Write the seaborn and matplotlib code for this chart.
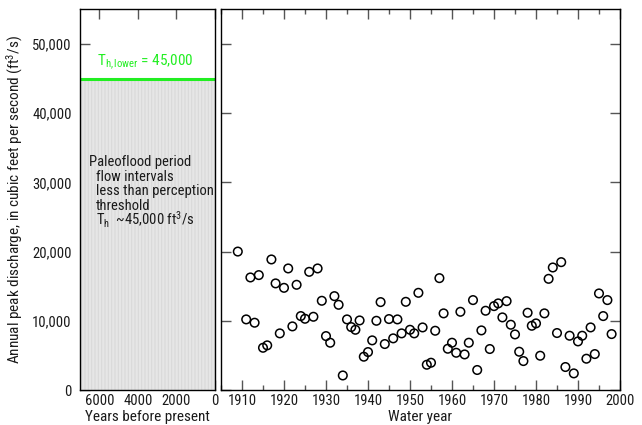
import matplotlib
matplotlib.use("Agg")
import matplotlib.pyplot as plt
from matplotlib import font_manager as fm
import seaborn as sns
import numpy as np
import pandas as pd

# ---- data ----
water_years = [1909] + list(range(1911, 1999))
peak_discharge = [
    20000, 10200, 16260, 9720, 16600, 6100, 6450, 18860, 15400, 8180,
    14760, 17560, 9190, 15200, 10680, 10290, 17070, 10580, 17560, 12890,
    7790, 6830, 13560, 12310, 2100, 10200, 9090, 8700, 10050, 4810,
    5480, 7170, 10000, 12700, 6640, 10250, 7460, 10200, 8180, 12740,
    8700, 8180, 14040, 9040, 3650, 3940, 8560, 16160, 11070, 5960,
    6830, 5380, 11300, 5140, 6830, 12990, 2890, 8610, 11450, 5920,
    12120, 12510, 10490, 12840, 9430, 8030, 5530, 4180, 11160, 9280,
    9620, 4950, 11070, 16060, 17700, 8230, 18470, 3320, 7840, 2400,
    7020, 7840, 4520, 9040, 5190, 13950, 10680, 12990, 8080,
]
threshold = 45000
threshold_label = r"T$_{\mathregular{h,lower}}$ = 45,000"
paleo_text = ["Paleoflood period", "flow intervals", "less than perception", "threshold",
              r"T$_{\mathregular{h}}$  ~45,000 ft$^{\mathregular{3}}$/s"]
yticks = [0, 10000, 20000, 30000, 40000, 50000]
ytick_labels = ["0", "10,000", "20,000", "30,000", "40,000", "50,000"]
bp_ticks = [6000, 4000, 2000, 0]
year_ticks = list(range(1910, 2001, 10))

df = pd.DataFrame({"year": water_years, "peak": peak_discharge})

sns.set_style("ticks")

# pick a condensed font if one is available
names = {f.name for f in fm.fontManager.ttflist}
stretch = "normal"
if "Roboto Condensed" in names:
    fam, fs = "Roboto Condensed", 10.5
elif "Liberation Sans Narrow" in names:
    fam, fs = "Liberation Sans Narrow", 10.5
elif any(("DejaVuSansCondensed" in f.fname) or ("DejaVu Sans" == f.name and f.stretch == "condensed")
         for f in fm.fontManager.ttflist):
    fam, fs, stretch = "DejaVu Sans", 9.5, "condensed"
else:
    fam, fs = "Liberation Sans", 9.2
plt.rcParams["font.family"] = [fam, "DejaVu Sans"]
plt.rcParams["font.stretch"] = stretch
plt.rcParams["mathtext.fontset"] = "custom"
plt.rcParams["mathtext.rm"] = fam
plt.rcParams["mathtext.it"] = fam
plt.rcParams["mathtext.default"] = "rm"
plt.rcParams["hatch.linewidth"] = 0.8

fig = plt.figure(figsize=(6.42, 4.25), dpi=100)
W, H = 642, 425
def pos(x0, x1, ytop, ybot):
    return [x0 / W, 1 - ybot / H, (x1 - x0) / W, (ybot - ytop) / H]

axL = fig.add_axes(pos(80, 215, 9.3, 390))
axR = fig.add_axes(pos(221, 620, 9.3, 390))

tickcol = "#555555"
txtcol = "#1a1a1a"
for ax in (axL, axR):
    ax.set_ylim(0, 55000)
    for s in ax.spines.values():
        s.set_color("black")
        s.set_linewidth(1.0)
    ax.tick_params(direction="in", length=7, width=1, color=tickcol, labelsize=fs,
                   labelcolor=txtcol, pad=3)
    ax.tick_params(which="minor", direction="in", length=3.5, width=1, color=tickcol)

# left panel
axL.set_xlim(7000, 0)
axL.fill_between([7000, 0], 0, threshold, facecolor="#e6e6e6", edgecolor="#d9d9d9",
                 hatch="|||||", linewidth=0)
axL.axhline(threshold, color="#22ee22", lw=2.2)
axL.text(6100, 46900, threshold_label, color="#22ee22", fontsize=fs + 0.5, va="baseline")
axL.set_xticks(bp_ticks)
axL.set_xticklabels([str(t) for t in bp_ticks])
axL.set_yticks(yticks)
axL.set_yticklabels(ytick_labels)
axL.tick_params(axis="x", top=True, bottom=True)
axL.tick_params(axis="y", left=True, right=False, pad=6)
axL.set_xlabel("Years before present", fontsize=fs + 0.5, labelpad=1, color=txtcol)
axL.set_ylabel(r"Annual peak discharge, in cubic feet per second (ft$^{\mathregular{3}}$/s)",
               fontsize=fs + 0.5, labelpad=5, color=txtcol)
baselines = [32300, 30200, 28100, 26000, 23850]
for i, line in enumerate(paleo_text):
    x = 6517 if i == 0 else 6185
    axL.text(x, baselines[i], line, fontsize=fs, va="baseline", color=txtcol)

# right panel
sns.scatterplot(data=df, x="year", y="peak", ax=axR, marker="o", s=38,
                facecolor="none", edgecolor="black", linewidth=1.1, legend=False)
axR.set_xlim(1905, 2000)
axR.set_xticks(year_ticks)
axR.set_xticklabels([str(t) for t in year_ticks])
axR.set_xticks(list(range(1905, 2000, 10)), minor=True)
axR.set_yticks(yticks)
axR.set_yticklabels([])
axR.tick_params(axis="x", which="both", top=True, bottom=True)
axR.tick_params(axis="y", left=True, right=True, labelleft=False)
axR.set_xlabel("Water year", fontsize=fs + 0.5, labelpad=1, color=txtcol)
axR.set_ylabel("")

fig.savefig("out.png", dpi=100)
